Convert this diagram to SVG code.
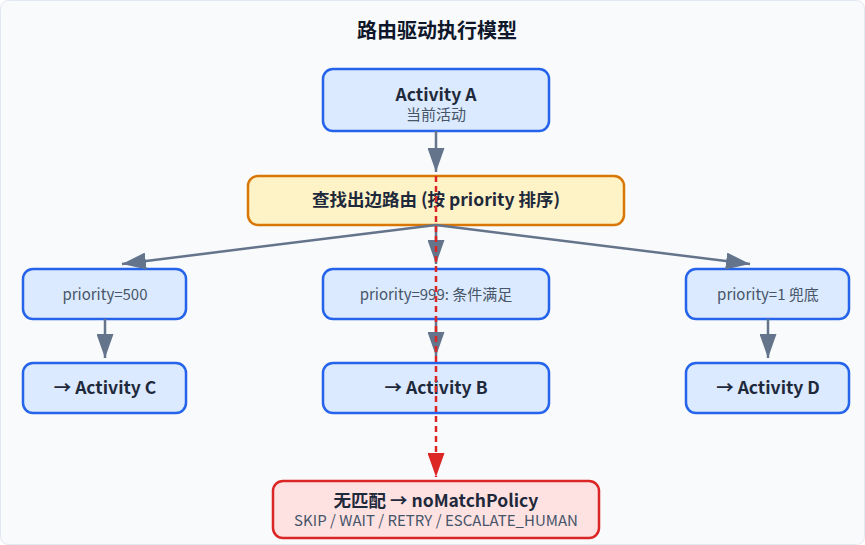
<svg xmlns="http://www.w3.org/2000/svg" width="865" height="545" viewBox="0 0 865 545">
<defs>
<style>
.t{font-family:"Noto Sans CJK SC","Noto Sans",sans-serif;text-anchor:middle}
.b{font-weight:700;font-size:17.5px;fill:#1e293b}
.s{font-size:15px;fill:#475569}
.p{font-size:15px;fill:#475569}
.blue{fill:#dbeafe;stroke:#2563eb;stroke-width:2.5}
.c{stroke:#64748b;stroke-width:2.5;fill:none}
</style>
<marker id="ag" markerUnits="userSpaceOnUse" viewBox="0 0 24 17" markerWidth="24" markerHeight="17" refX="24" refY="8.5" orient="auto"><path d="M0,0 L24,8.5 L0,17 z" fill="#64748b"/></marker>
<marker id="ar" markerUnits="userSpaceOnUse" viewBox="0 0 24 17" markerWidth="24" markerHeight="17" refX="24" refY="8.5" orient="auto"><path d="M0,0 L24,8.5 L0,17 z" fill="#dc2626"/></marker>
</defs>
<rect x="0.5" y="0.5" width="864" height="544" rx="8" fill="#f8fafc" stroke="#e2e8f0"/>
<text class="t" x="437" y="38" style="font-size:20px;font-weight:700;fill:#0f172a">路由驱动执行模型</text>
<g id="nodeA"><rect class="blue" x="323" y="69" width="226" height="62" rx="10"/><text class="t b" x="436" y="101">Activity A</text><text class="t s" x="436" y="120">当前活动</text></g>
<g id="router"><rect x="248" y="176" width="376" height="49" rx="10" fill="#fef3c7" stroke="#d97706" stroke-width="2.5"/><text class="t b" x="436" y="206">查找出边路由 (按 priority 排序)</text></g>
<g id="p500"><rect class="blue" x="23" y="269" width="163" height="50" rx="10"/><text class="t p" x="105" y="300">priority=500</text></g>
<g id="p999"><rect class="blue" x="323" y="269" width="226" height="50" rx="10"/><text class="t p" x="436" y="300">priority=999: 条件满足</text></g>
<g id="p1"><rect class="blue" x="686" y="269" width="163" height="50" rx="10"/><text class="t p" x="768" y="300">priority=1 兜底</text></g>
<g id="actC"><rect class="blue" x="23" y="363" width="163" height="50" rx="10"/><text class="t b" x="105" y="394">→ Activity C</text></g>
<g id="actB"><rect class="blue" x="323" y="363" width="226" height="50" rx="10"/><text class="t b" x="436" y="394">→ Activity B</text></g>
<g id="actD"><rect class="blue" x="686" y="363" width="163" height="50" rx="10"/><text class="t b" x="768" y="394">→ Activity D</text></g>
<g id="nomatch"><rect x="273" y="481" width="326" height="57" rx="10" fill="#fee2e2" stroke="#dc2626" stroke-width="2.5"/><text class="t b" x="436" y="507">无匹配 → noMatchPolicy</text><text class="t s" x="436" y="526">SKIP / WAIT / RETRY / ESCALATE_HUMAN</text></g>
<g id="connectors">
<line class="c" x1="436" y1="131" x2="436" y2="172" marker-end="url(#ag)"/>
<line class="c" x1="436" y1="225" x2="122" y2="264" marker-end="url(#ag)"/>
<line class="c" x1="436" y1="225" x2="436" y2="264" marker-end="url(#ag)"/>
<line class="c" x1="436" y1="225" x2="750" y2="264" marker-end="url(#ag)"/>
<line class="c" x1="105" y1="319" x2="105" y2="358" marker-end="url(#ag)"/>
<line class="c" x1="436" y1="319" x2="436" y2="356" marker-end="url(#ag)"/>
<line class="c" x1="768" y1="319" x2="768" y2="358" marker-end="url(#ag)"/>
<line x1="436" y1="176" x2="436" y2="477" stroke="#dc2626" stroke-width="2.5" stroke-dasharray="6 4" marker-end="url(#ar)"/>
</g>
</svg>
